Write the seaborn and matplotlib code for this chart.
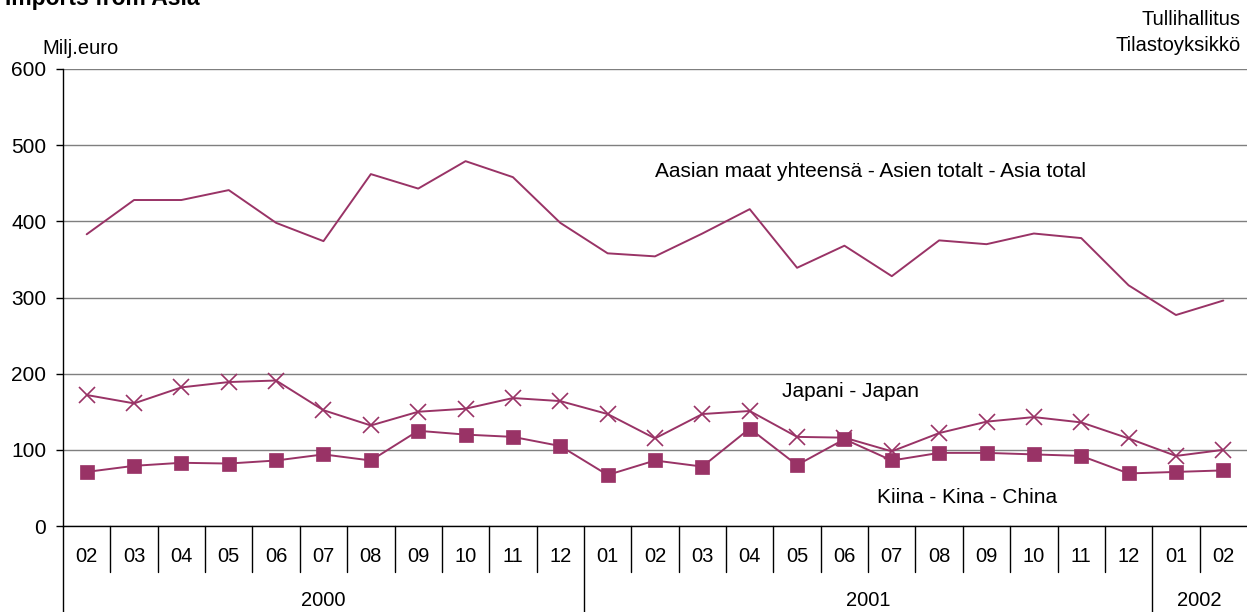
import matplotlib
matplotlib.use("Agg")
import matplotlib.pyplot as plt
import matplotlib.transforms as mtransforms
import seaborn as sns
import pandas as pd
import numpy as np

# ---- data ----
months = ["02", "03", "04", "05", "06", "07", "08", "09", "10", "11", "12",
          "01", "02", "03", "04", "05", "06", "07", "08", "09", "10", "11", "12",
          "01", "02"]
year_labels = ["2000", "2001", "2002"]
year_counts = [11, 12, 2]

asia_total = [383, 428, 428, 441, 398, 374, 462, 443, 479, 458, 398,
              358, 354, 384, 416, 339, 368, 328, 375, 370, 384, 378, 316,
              277, 296]
japan = [172, 161, 182, 189, 191, 152, 132, 150, 154, 168, 164,
         147, 115, 147, 151, 117, 116, 98, 122, 137, 143, 136, 115,
         92, 100]
china = [71, 79, 83, 82, 86, 94, 86, 125, 120, 117, 105,
         67, 86, 78, 128, 80, 114, 86, 96, 96, 94, 92, 69,
         71, 73]

label_asia = "Aasian maat yhteensä - Asien totalt - Asia total"
label_japan = "Japani - Japan"
label_china = "Kiina - Kina - China"
title = "Imports from Asia"
unit = "Milj.euro"
source = "Tullihallitus\nTilastoyksikkö"

# ---- style ----
sns.set_theme(style="white")
plt.rcParams['font.family'] = ['Liberation Sans', 'DejaVu Sans']

W, H = 1247, 612
fig = plt.figure(figsize=(W / 100, H / 100), dpi=100)
ax_left, ax_right, ax_top, ax_bot = 63, 1247, 69, 526
ax = fig.add_axes([ax_left / W, 1 - ax_bot / H, (ax_right - ax_left) / W, (ax_bot - ax_top) / H])

color = "#993366"
df = pd.DataFrame({"idx": np.arange(len(months)), "Asia": asia_total,
                   "Japan": japan, "China": china})

sns.lineplot(data=df, x="idx", y="Asia", color=color, lw=1.4, ax=ax)
sns.lineplot(data=df, x="idx", y="Japan", color=color, lw=1.4, marker="x",
             markersize=11, markeredgewidth=1.2, markeredgecolor=color, ax=ax)
sns.lineplot(data=df, x="idx", y="China", color=color, lw=1.4, marker="s",
             markersize=10, markeredgewidth=0.5, markeredgecolor=color, ax=ax)

n = len(months)
ax.set_xlim(-0.5, n - 0.5)
ax.set_ylim(0, 600)
ax.set_yticks(range(0, 700, 100))
ax.yaxis.grid(True, color="#7f7f7f", lw=1)
ax.xaxis.grid(False)
ax.set_axisbelow(True)
ax.set_xticks([])
ax.set_xlabel("")
ax.set_ylabel("")
for s in ["top", "right"]:
    ax.spines[s].set_visible(False)
for s in ["left", "bottom"]:
    ax.spines[s].set_color("black")
    ax.spines[s].set_linewidth(1)
ax.tick_params(axis="y", left=True, length=5, width=1, color="black",
               labelsize=15, pad=7, labelcolor="black")

FS = 14.5

# ---- category axis (months / years) ----
axh = ax_bot - ax_top
trans = mtransforms.blended_transform_factory(ax.transData, ax.transAxes)
month_sep = -46 / axh
year_sep = -(H - ax_bot) / axh
for i, m in enumerate(months):
    ax.text(i, -31 / axh, m, transform=trans, ha="center", va="center",
            fontsize=14.5, color="black", clip_on=False)
bounds = np.cumsum([0] + year_counts) - 0.5
for k in range(1, n):
    xb = k - 0.5
    if np.any(np.isclose(bounds, xb)):
        continue
    ax.plot([xb, xb], [0, month_sep], transform=trans, color="black", lw=1, clip_on=False)
for b in bounds[:-1]:
    ax.plot([b, b], [0, year_sep], transform=trans, color="black", lw=1, clip_on=False)
for j, y in enumerate(year_labels):
    mid = (bounds[j] + bounds[j + 1]) / 2
    ax.text(mid, -75 / axh, y, transform=trans, ha="center", va="center",
            fontsize=14.5, color="black", clip_on=False)

# ---- annotations ----
ax.text(12.0, 466, label_asia, ha="left", va="center", fontsize=15, color="black")
ax.text(14.68, 176, label_japan, ha="left", va="center", fontsize=15, color="black")
ax.text(16.69, 38, label_china, ha="left", va="center", fontsize=15, color="black")

fig.text(42 / W, 1 - 48 / H, unit, ha="left", va="center", fontsize=FS, color="black")
fig.text(1241 / W, 1 - 10 / H, source, ha="right", va="top", fontsize=FS,
         color="black", linespacing=1.45)
fig.text(5 / W, 1 - 5 / H, title, ha="left", va="baseline", fontsize=16.5,
         fontweight="bold", color="black")

fig.savefig("out.png", dpi=100)
